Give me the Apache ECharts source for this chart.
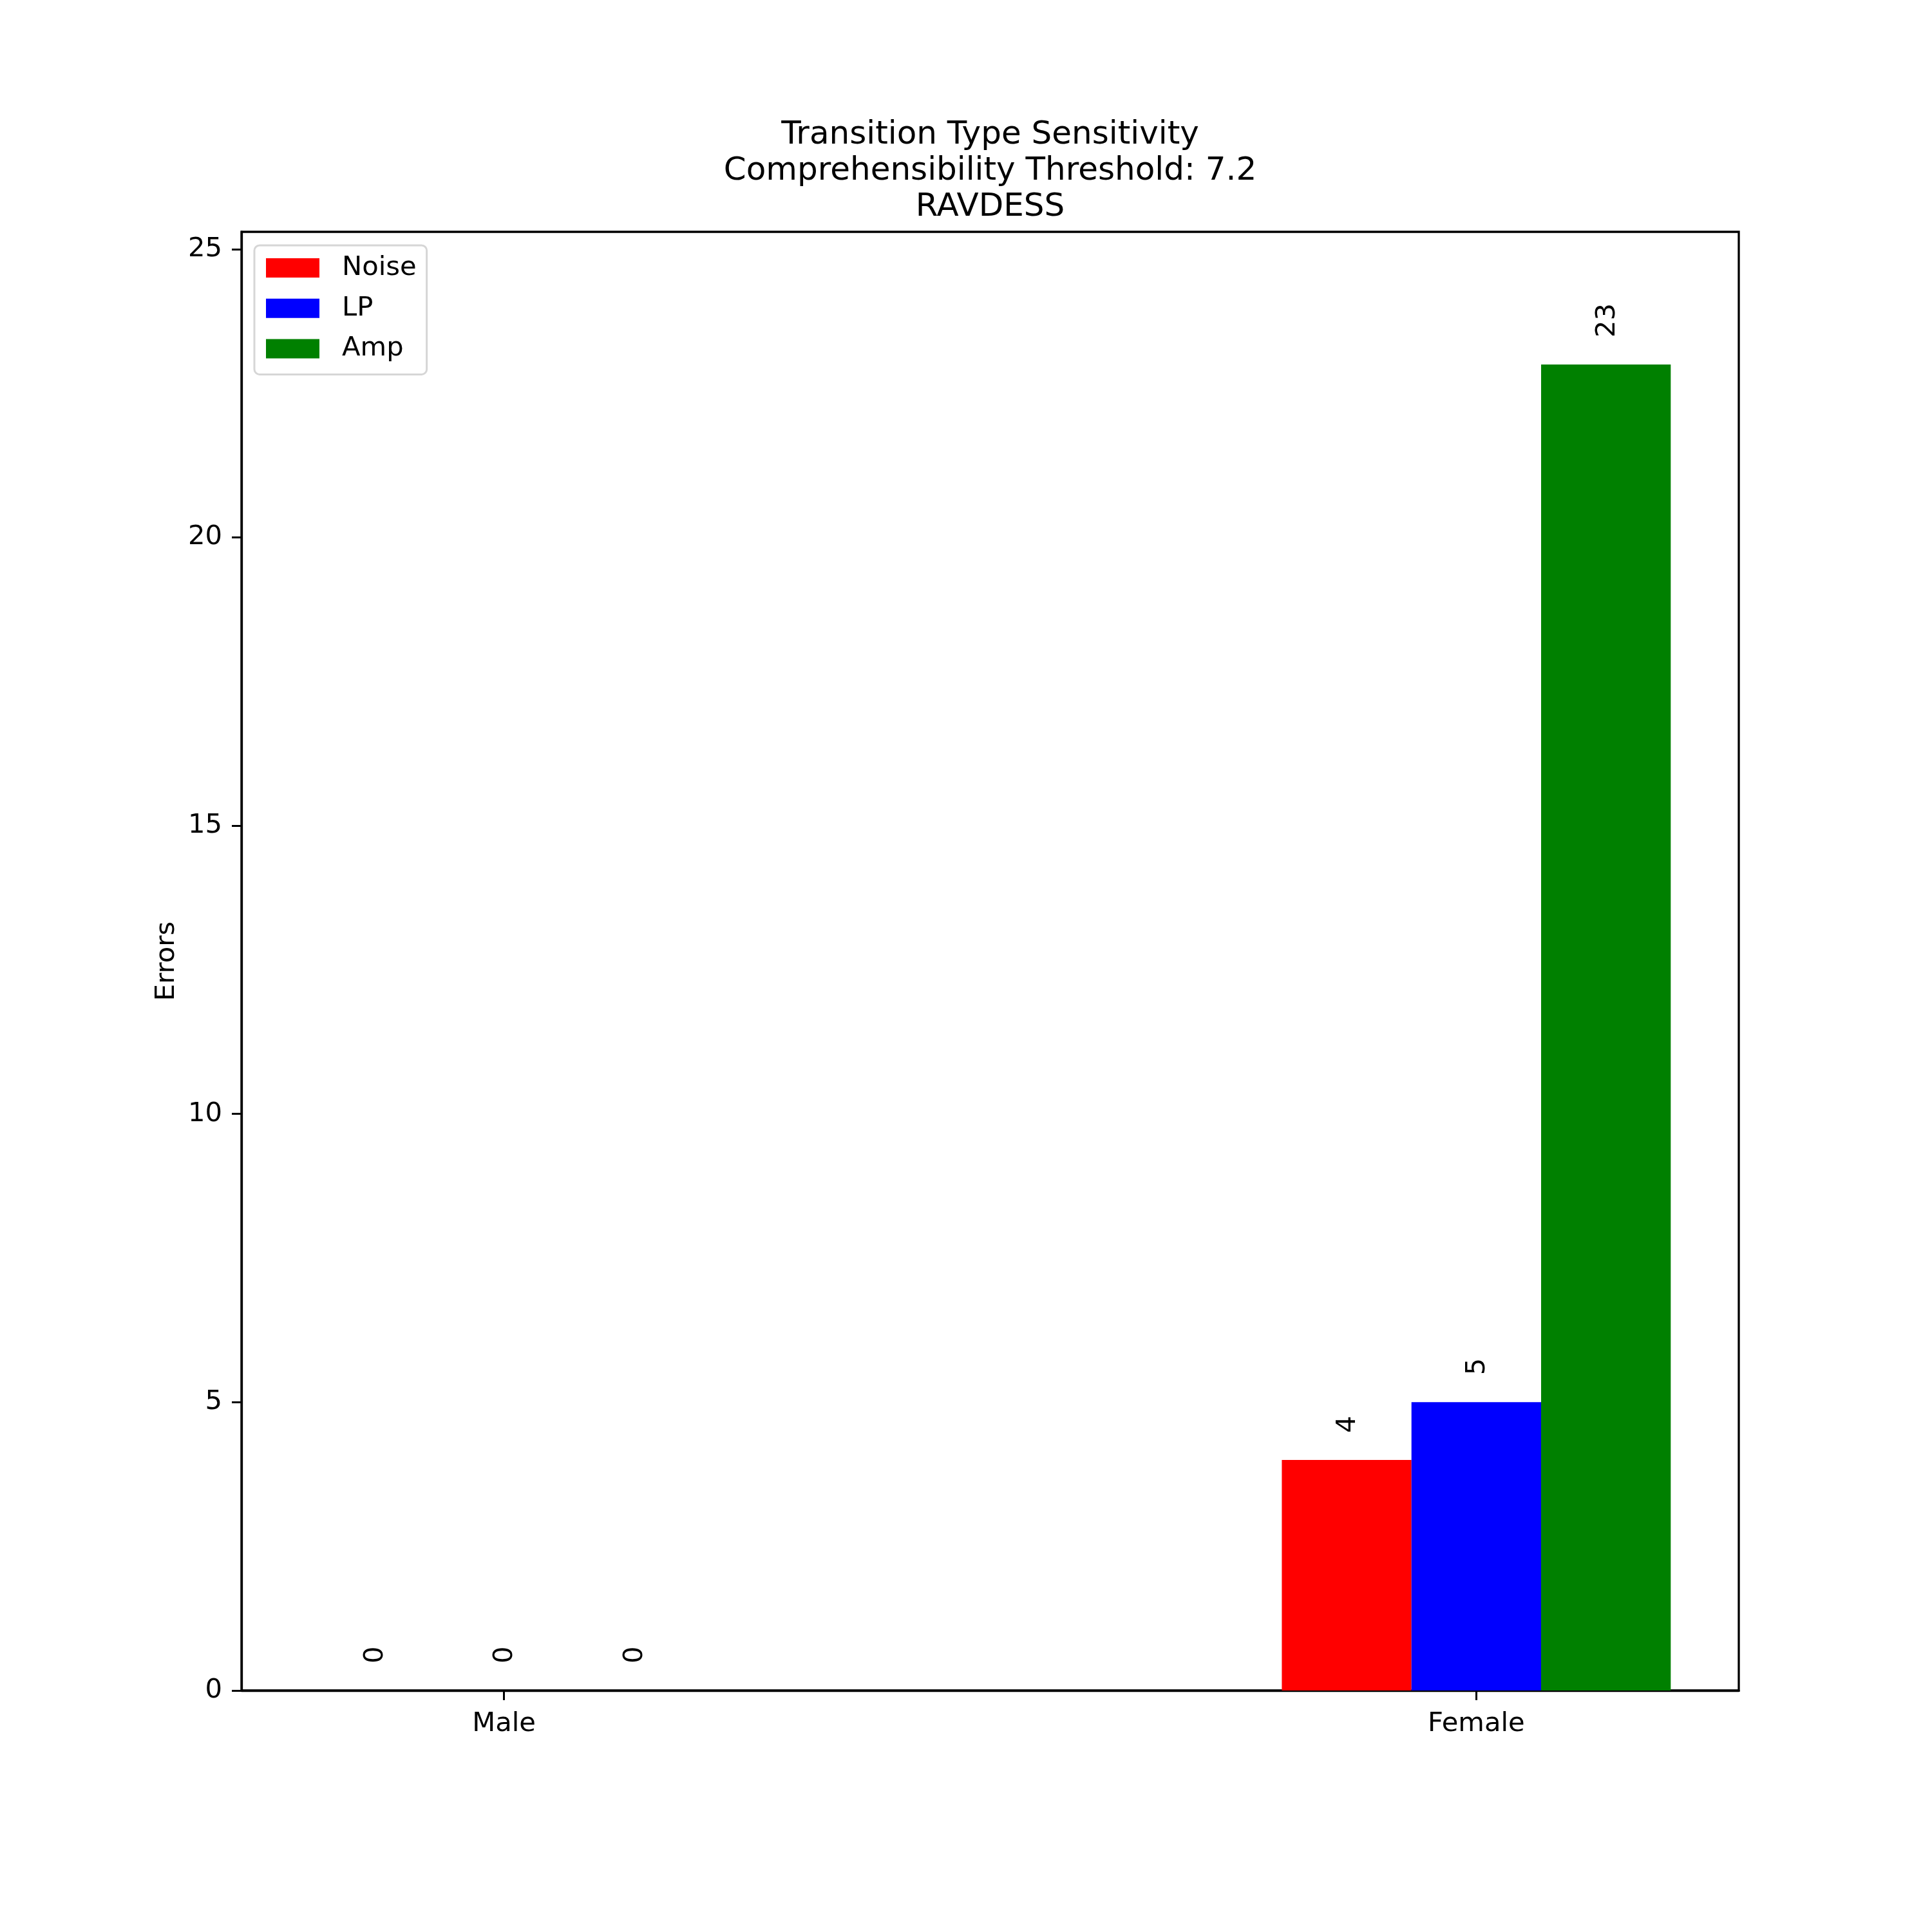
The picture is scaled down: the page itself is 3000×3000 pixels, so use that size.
<!DOCTYPE html>
<html>
<head>
<meta charset="utf-8">
<script src="https://cdn.jsdelivr.net/npm/echarts@6/dist/echarts.min.js"></script>
<style>html,body{margin:0;padding:0;background:#fff}#c{width:3000px;height:3000px}</style>
</head>
<body>
<div id="c"></div>
<script>
const categories = ['Male', 'Female'];
const seriesNames = ['Noise', 'LP', 'Amp'];
const noiseValues = [0, 4];
const lpValues = [0, 5];
const ampValues = [0, 23];
const yTickValues = [0, 5, 10, 15, 20, 25];
const titleLines = ['Transition Type Sensitivity', 'Comprehensibility Threshold: 7.2', 'RAVDESS'];
const yAxisTitle = 'Errors';

const colors = ['#ff0000', '#0000ff', '#008000'];
const FONT = 'DejaVu Sans';
const FS = 41.7;
const barW = 0.4 / 3;
const allValues = [noiseValues, lpValues, ampValues];
const yMax = Math.max(...allValues.flat()) * 1.1;

const chart = echarts.init(document.getElementById('c'), null, {renderer: 'canvas'});

function makeSeries(idx) {
  return {
    type: 'custom',
    name: seriesNames[idx],
    itemStyle: {color: colors[idx]},
    clip: false,
    data: categories.map((c, i) => [i, allValues[idx][i]]),
    renderItem: function (params, api) {
      const x = api.value(0), y = api.value(1);
      const off = (idx - 1) * barW;
      const p0 = api.coord([x + off - barW / 2, y]);
      const p1 = api.coord([x + off + barW / 2, 0]);
      const cx = (p0[0] + p1[0]) / 2;
      return {
        type: 'group',
        children: [
          {type: 'rect', shape: {x: p0[0], y: p0[1], width: p1[0] - p0[0], height: p1[1] - p0[1]},
           style: {fill: colors[idx]}},
          {type: 'text', x: cx + 2, y: p0[1] - 42, rotation: Math.PI / 2,
           style: {text: String(y), fill: '#000', fontFamily: FONT, fontSize: FS,
                   align: 'left', verticalAlign: 'middle'}}
        ]
      };
    }
  };
}

chart.setOption({
  animation: false,
  backgroundColor: '#fff',
  grid: {left: 375, right: 300, top: 360, bottom: 375, show: true,
         borderColor: '#000', borderWidth: 3.3, backgroundColor: 'transparent'},
  graphic: [{
    type: 'text', x: 1537.5, y: 182,
    style: {text: titleLines.join('\n'), fill: '#000', fontFamily: FONT, fontSize: 50,
            lineHeight: 56, align: 'center', verticalAlign: 'top'}
  }],
  legend: {
    orient: 'vertical', left: 395, top: 381,
    padding: [14, 16, 19, 18],
    itemGap: 20.7, itemWidth: 83, itemHeight: 30,
    icon: 'rect',
    backgroundColor: '#fff', borderColor: '#d6d6d6', borderWidth: 3, borderRadius: 8,
    textStyle: {fontFamily: FONT, fontSize: FS, color: '#000', lineHeight: 42, padding: [0, 0, 0, 30]},
    data: seriesNames
  },
  xAxis: {
    type: 'value', min: -0.27, max: 1.27,
    splitLine: {show: false},
    axisLine: {show: true, onZero: false, lineStyle: {color: '#000', width: 3.3}},
    axisTick: {show: true, length: 15, lineStyle: {color: '#000', width: 3}, customValues: [0, 1]},
    axisLabel: {customValues: [0, 1], formatter: v => categories[Math.round(v)],
                fontFamily: FONT, fontSize: FS, color: '#000', margin: 31}
  },
  yAxis: {
    type: 'value', min: 0, max: yMax,
    name: yAxisTitle, nameLocation: 'middle', nameGap: 95, nameRotate: 90,
    nameTextStyle: {fontFamily: FONT, fontSize: FS, color: '#000'},
    splitLine: {show: false},
    axisLine: {show: true, onZero: false, lineStyle: {color: '#000', width: 3.3}},
    axisTick: {show: true, length: 15, lineStyle: {color: '#000', width: 3}, customValues: yTickValues},
    axisLabel: {customValues: yTickValues, fontFamily: FONT, fontSize: FS, color: '#000', margin: 30}
  },
  series: [makeSeries(0), makeSeries(1), makeSeries(2)]
});
</script>
</body>
</html>
